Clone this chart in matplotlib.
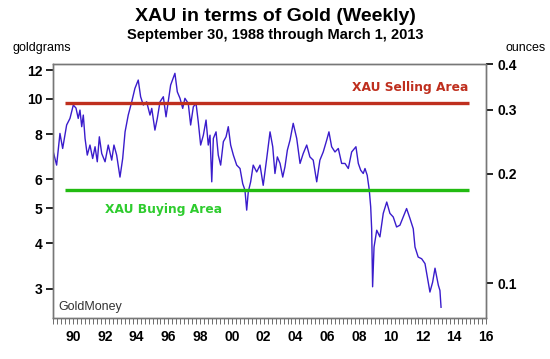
import matplotlib
matplotlib.use('Agg')
import matplotlib.pyplot as plt
from matplotlib.ticker import FixedLocator, NullLocator, NullFormatter, MultipleLocator

plt.rcParams['font.family'] = ['Liberation Sans', 'DejaVu Sans']

# XAU / gold ratio in goldgrams (decimal years)
years = [1988.75, 1988.96, 1989.17, 1989.34, 1989.59, 1989.80, 1990.01, 1990.18,
         1990.32, 1990.43, 1990.54, 1990.64, 1990.75, 1990.89, 1991.06, 1991.23,
         1991.38, 1991.52, 1991.65, 1991.80, 1992.01, 1992.21, 1992.43, 1992.57,
         1992.74, 1992.95, 1993.12, 1993.27, 1993.47, 1993.69, 1993.89, 1994.10,
         1994.25, 1994.42, 1994.63, 1994.84, 1994.95, 1995.15, 1995.30, 1995.47,
         1995.68, 1995.85, 1995.99, 1996.14, 1996.41, 1996.56, 1996.73, 1996.90,
         1997.04, 1997.25, 1997.40, 1997.57, 1997.74, 1997.88, 1998.03, 1998.20,
         1998.37, 1998.51, 1998.62, 1998.73, 1998.83, 1999.00, 1999.14, 1999.29,
         1999.46, 1999.63, 1999.77, 1999.92, 2000.09, 2000.30, 2000.51, 2000.68,
         2000.82, 2000.93, 2001.03, 2001.18, 2001.34, 2001.56, 2001.77, 2001.97,
         2002.19, 2002.40, 2002.57, 2002.71, 2002.86, 2003.03, 2003.20, 2003.34,
         2003.49, 2003.66, 2003.86, 2004.08, 2004.29, 2004.49, 2004.71, 2004.91,
         2005.12, 2005.34, 2005.54, 2005.75, 2005.97, 2006.11, 2006.28, 2006.49,
         2006.70, 2006.91, 2007.12, 2007.33, 2007.54, 2007.81, 2007.96, 2008.11,
         2008.27, 2008.38, 2008.52, 2008.65, 2008.74, 2008.80, 2008.86, 2008.95,
         2009.12, 2009.32, 2009.53, 2009.75, 2009.95, 2010.16, 2010.37, 2010.58,
         2010.79, 2011.00, 2011.21, 2011.42, 2011.53, 2011.73, 2011.95, 2012.16,
         2012.36, 2012.47, 2012.64, 2012.79, 2013.00, 2013.10, 2013.17]
goldgrams = [7.14, 6.57, 8.03, 7.30, 8.47, 8.83, 9.61, 9.43,
             8.83, 9.31, 8.38, 9.02, 7.78, 7.00, 7.46, 6.85,
             7.38, 6.71, 7.86, 7.07, 6.71, 7.46, 6.78, 7.46,
             7.00, 6.09, 6.85, 8.11, 9.02, 9.81, 10.68, 11.26,
             10.13, 9.61, 9.81, 9.02, 9.41, 8.20, 8.83, 9.81,
             10.13, 8.92, 9.81, 10.91, 11.75, 10.45, 10.03, 9.41,
             10.03, 9.71, 8.47, 9.51, 9.71, 8.64, 7.46, 7.94,
             8.74, 7.46, 7.94, 5.91, 7.78, 8.11, 7.00, 6.57,
             7.62, 7.86, 8.38, 7.46, 7.00, 6.57, 6.43, 5.84,
             5.61, 4.94, 5.55, 5.91, 6.57, 6.29, 6.57, 5.78,
             6.85, 8.11, 7.38, 6.23, 6.92, 6.64, 6.09, 6.50,
             7.22, 7.70, 8.56, 7.78, 6.64, 7.07, 7.46, 6.92,
             6.78, 5.91, 6.78, 7.14, 7.70, 8.11, 7.38, 7.14,
             7.30, 6.64, 6.64, 6.43, 7.14, 7.38, 6.64, 6.36,
             6.23, 6.43, 6.16, 5.61, 5.04, 4.39, 3.04, 3.91,
             4.35, 4.17, 4.84, 5.20, 4.84, 4.73, 4.44, 4.49,
             4.73, 4.99, 4.69, 4.39, 3.91, 3.67, 3.63, 3.52,
             3.13, 2.94, 3.13, 3.42, 3.07, 2.97, 2.67]

GG_PER_OZ = 31.1035
selling_level = 9.75
buying_level = 5.6
line_span = (1989.5, 2014.9)

left_ticks = [3, 4, 5, 6, 8, 10, 12]
right_ticks = [0.1, 0.2, 0.3, 0.4]
year_ticks = list(range(1990, 2017, 2))

fig = plt.figure(figsize=(5.5, 3.59), dpi=100)
ax = fig.add_axes([0.0969, 0.1131, 0.7867, 0.7078])

ax.plot(years, goldgrams, color='#3a1ccc', linewidth=1.0)
ax.hlines(selling_level, *line_span, color='#bf2f1e', linewidth=2.4)
ax.hlines(buying_level, *line_span, color='#22bb11', linewidth=2.4)

ax.text(2014.9, 10.75, 'XAU Selling Area', color='#bf2f1e', fontsize=8.8,
        fontweight='bold', ha='right', va='center', family=['DejaVu Sans'])
ax.text(1992.0, 4.95, 'XAU Buying Area', color='#2ecc2e', fontsize=8.8,
        fontweight='bold', ha='left', va='center', family=['DejaVu Sans'])
ax.text(0.012, 0.045, 'GoldMoney', transform=ax.transAxes, fontsize=9,
        color='#333333', ha='left', va='center')

ax.set_yscale('log')
ax.set_ylim(0.08 * GG_PER_OZ, 0.4 * GG_PER_OZ)
ax.set_xlim(1988.75, 2016.0)
ax.yaxis.set_major_locator(FixedLocator(left_ticks))
ax.yaxis.set_minor_locator(NullLocator())
ax.yaxis.set_minor_formatter(NullFormatter())
ax.set_yticklabels([str(t) for t in left_ticks])

ax.xaxis.set_major_locator(FixedLocator(year_ticks))
ax.set_xticklabels(['%02d' % (y % 100) for y in year_ticks])
ax.xaxis.set_minor_locator(MultipleLocator(0.25))

ax2 = ax.twinx()
ax2.set_yscale('log')
ax2.set_ylim(0.08, 0.4)
ax2.yaxis.set_major_locator(FixedLocator(right_ticks))
ax2.yaxis.set_minor_locator(NullLocator())
ax2.yaxis.set_minor_formatter(NullFormatter())
ax2.set_yticklabels([str(t) for t in right_ticks])

for a in (ax, ax2):
    for s in a.spines.values():
        s.set_color('#777777')
        s.set_linewidth(1.0)
ax.tick_params(axis='y', which='major', direction='out', length=5, width=1.2,
               labelsize=10, pad=3)
ax2.tick_params(axis='y', which='major', direction='out', length=5, width=1.2,
                labelsize=10, pad=3)
ax.tick_params(axis='x', which='both', direction='out', length=4, width=0.6,
               labelsize=10, pad=4, color='#555555')
for lab in ax.get_xticklabels() + ax.get_yticklabels() + ax2.get_yticklabels():
    lab.set_fontweight('bold')

fig.text(0.5, 0.955, 'XAU in terms of Gold (Weekly)', ha='center', va='center',
         fontsize=14, fontweight='bold')
fig.text(0.5, 0.9025, 'September 30, 1988 through March 1, 2013', ha='center',
         va='center', fontsize=10.5, fontweight='bold')
fig.text(0.022, 0.865, 'goldgrams', ha='left', va='center', fontsize=9)
fig.text(0.955, 0.865, 'ounces', ha='center', va='center', fontsize=9)

fig.savefig('out.png', dpi=100)
